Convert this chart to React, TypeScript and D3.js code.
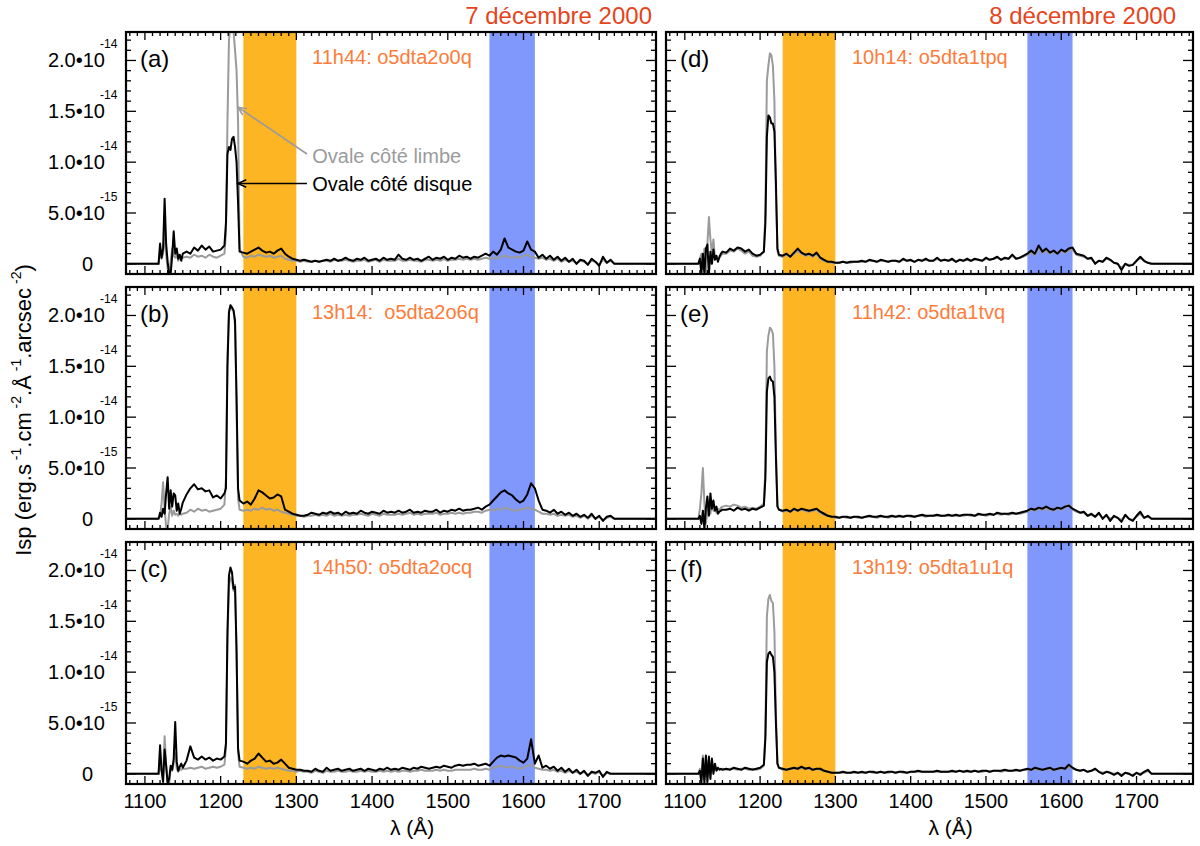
import React from "react";
import * as d3 from "d3";

// ---------- DATA (intensities in units of 1e-15 erg.s-1.cm-2.Å-1.arcsec-2) ----------
const WAVELENGTH = [
  1075, 1118,
  1120, 1122, 1124, 1126, 1128, 1130, 1132, 1134, 1136, 1138, 1140, 1142, 1144, 1146, 1148, 1150,
  1155, 1160, 1165, 1170, 1175, 1180, 1185, 1190, 1195, 1200, 1205,
  1207, 1209, 1211, 1213, 1215, 1217, 1219, 1221, 1223, 1225,
  1230, 1235, 1240, 1245, 1250, 1255, 1260, 1265, 1270, 1275,
  1280, 1285, 1290, 1295, 1300, 1305, 1310, 1315, 1320, 1325,
  1330, 1335, 1340, 1345, 1350, 1355, 1360, 1365, 1370, 1375,
  1380, 1385, 1390, 1395, 1400, 1405, 1410, 1415, 1420, 1425,
  1430, 1435, 1440, 1445, 1450, 1455, 1460, 1465, 1470, 1475,
  1480, 1485, 1490, 1495, 1500, 1505, 1510, 1515, 1520, 1525,
  1530, 1535, 1540, 1545, 1550, 1555, 1560, 1565, 1570, 1575,
  1580, 1585, 1590, 1595, 1600, 1605, 1610, 1615, 1620, 1625,
  1630, 1635, 1640, 1645, 1650, 1655, 1660, 1665, 1670, 1675,
  1680, 1685, 1690, 1695, 1700, 1705, 1710, 1715,
  1720, 1775,
];

// (a) 7 Dec 11h44
const A_DISK = [
  0, 0,
  2.0, 0.6, 1.5, 6.4, 2.0, 0.2, -1.0, -1.0, 0.8, 3.2, 1.0, 1.5, 0.5, 0.9, 0.3, 1.0,
  1.2, 1.0, 1.6, 1.3, 1.8, 1.4, 1.7, 1.2, 1.3, 1.4, 1.8,
  4.0, 10.8, 11.5, 11.2, 12.3, 12.5, 11.5, 10.0, 6.0, 1.2,
  1.1, 1.0, 1.2, 1.4, 1.6, 1.3, 1.1, 1.2, 1.0, 1.3,
  1.5, 1.0, 0.7, 0.5, 0.4, 0.3, 0.4, 0.3, 0.2, 0.3,
  0.2, 0.3, 0.4, 0.3, 0.5, 0.3, 0.4, 0.6, 0.4, 0.3,
  0.5, 0.4, 0.6, 0.3, 0.4, 0.5, 0.3, 0.6, 0.4, 0.5,
  0.4, 0.9, 0.5, 0.4, 0.6, 0.4, 0.5, 0.3, 0.5, 0.7,
  0.4, 0.6, 0.5, 0.7, 0.4, 0.6, 0.5, 0.8, 0.6, 0.7,
  0.5, 0.7, 0.6, 0.8, 1.0, 0.8, 1.2, 0.9, 1.4, 2.5,
  1.6, 1.4, 1.2, 1.1, 1.3, 2.2, 1.4, 1.2, 0.6, 0.9,
  0.5, 0.8, 0.4, 0.7, 0.3, 0.6, 0.2, 0.5, 0.0, 0.4,
  0.3, -0.1, 0.5, 0.2, -0.2, 0.7, 0.1, 0.4,
  0, 0,
];
const A_LIMB = [
  0, 0,
  1.2, 0.5, 1.0, 3.0, 1.0, -0.5, -1.0, 0.3, 1.5, 0.8, 0.6, 0.9, 0.3, 0.6, 0.5, 0.6,
  0.7, 0.6, 0.9, 0.7, 0.8, 0.6, 0.9, 0.7, 0.6, 0.8, 1.0,
  3.0, 14.0, 22.0, 23.5, 23.5, 23.0, 21.0, 19.0, 14.0, 1.5,
  0.7, 0.6, 0.8, 0.7, 0.9, 0.8, 0.7, 0.8, 0.6, 0.7,
  0.8, 0.5, 0.4, 0.3, 0.3, 0.2, 0.3, 0.2, 0.2, 0.3,
  0.2, 0.3, 0.3, 0.2, 0.4, 0.3, 0.3, 0.4, 0.3, 0.2,
  0.3, 0.3, 0.4, 0.2, 0.3, 0.4, 0.2, 0.4, 0.3, 0.3,
  0.3, 0.5, 0.3, 0.3, 0.4, 0.3, 0.3, 0.2, 0.4, 0.4,
  0.3, 0.4, 0.3, 0.5, 0.3, 0.4, 0.4, 0.5, 0.4, 0.5,
  0.4, 0.5, 0.4, 0.5, 0.6, 0.5, 0.6, 0.5, 0.7, 0.8,
  0.7, 0.6, 0.7, 0.6, 0.8, 0.9, 0.7, 0.6, 0.5, 0.6,
  0.4, 0.5, 0.3, 0.5, 0.2, 0.4, 0.2, 0.3, 0.1, 0.3,
  0.2, 0.0, 0.3, 0.2, -0.1, 0.4, 0.1, 0.3,
  0, 0,
];

// (b) 7 Dec 13h14
const B_DISK = [
  0, 0,
  0.6, 0.2, 1.0, 0.5, 2.5, 4.1, 1.0, 2.8, 1.2, 2.5, 2.3, 0.8, 1.5, 0.5, 1.0, 1.6,
  2.4, 3.0, 3.4, 2.9, 3.0, 2.7, 2.8, 2.1, 2.3, 2.0, 2.5,
  3.0, 15.0, 20.3, 21.0, 20.8, 20.5, 19.5, 12.0, 3.0, 1.8,
  1.5, 1.7, 1.4, 2.0, 2.8, 2.6, 2.3, 2.0, 2.1, 2.4,
  2.2, 0.9, 0.7, 0.5, 0.4, 0.3, 0.3, 0.4, 0.6, 0.5,
  0.4, 0.6, 0.5, 0.7, 0.5, 0.6, 0.4, 0.7, 0.5, 0.6,
  0.5, 0.8, 0.6, 0.5, 0.7, 0.6, 0.5, 0.8, 0.6, 0.7,
  0.6, 0.8, 0.6, 0.7, 0.9, 0.6, 0.7, 0.6, 0.8, 0.7,
  0.7, 0.9, 0.6, 0.8, 0.7, 0.9, 0.8, 1.0, 0.8, 0.9,
  0.9, 1.0, 1.1, 0.9, 1.2, 1.4, 1.8, 2.2, 2.6, 2.8,
  2.5, 2.3, 1.9, 1.6, 1.8, 2.4, 3.5, 3.0, 1.8, 0.9,
  0.8, 0.6, 0.9, 0.5, 0.7, 0.4, 0.6, 0.3, 0.5, 0.2,
  0.4, 0.1, 0.5, 0.0, 0.3, -0.2, 0.2, 0.3,
  0, 0,
];
const B_LIMB = [
  0, 0,
  0.3, 1.5, 3.6, 1.0, -0.8, -1.0, 0.5, 1.2, 0.3, 0.8, 0.4, 0.5, 0.3, 0.6, 0.4, 0.5,
  0.6, 0.9, 0.7, 1.0, 0.8, 0.9, 0.7, 0.8, 0.9, 1.0, 1.4,
  4.0, 16.0, 20.5, 21.0, 20.6, 20.5, 19.0, 11.0, 2.0, 0.9,
  0.8, 0.9, 0.8, 1.0, 0.9, 1.1, 0.9, 1.0, 0.8, 0.9,
  0.7, 0.6, 0.5, 0.4, 0.3, 0.3, 0.2, 0.3, 0.3, 0.4,
  0.3, 0.4, 0.3, 0.5, 0.3, 0.4, 0.3, 0.4, 0.3, 0.4,
  0.4, 0.5, 0.4, 0.3, 0.5, 0.4, 0.3, 0.5, 0.4, 0.4,
  0.4, 0.5, 0.4, 0.5, 0.6, 0.4, 0.5, 0.4, 0.5, 0.5,
  0.5, 0.6, 0.4, 0.5, 0.5, 0.6, 0.5, 0.6, 0.5, 0.6,
  0.6, 0.7, 0.7, 0.6, 0.8, 0.9, 0.8, 1.0, 0.9, 1.1,
  1.0, 0.9, 0.8, 0.9, 1.0, 1.1, 1.0, 0.9, 0.7, 0.5,
  0.5, 0.4, 0.5, 0.3, 0.4, 0.3, 0.4, 0.2, 0.3, 0.1,
  0.3, 0.0, 0.3, 0.0, 0.2, -0.1, 0.1, 0.2,
  0, 0,
];

// (c) 7 Dec 14h50
const C_DISK = [
  0, 0,
  2.8, 0.3, -0.8, 2.4, 0.8, -1.0, -0.5, 0.8, 0.4, 1.5, 5.1, 1.2, 0.3, 0.7, 1.0, 0.6,
  1.3, 2.7, 1.6, 1.4, 1.7, 1.4, 1.6, 1.3, 1.5, 1.4, 1.7,
  3.0, 14.0, 19.5, 20.3, 19.8, 18.2, 18.4, 12.0, 2.5, 1.3,
  1.2, 1.0, 1.3, 1.5, 2.0, 1.6, 1.2, 1.3, 1.0, 1.1,
  1.4, 1.0, 0.6, 0.5, 0.4, 0.4, 0.3, 0.3, 0.2, 0.5,
  0.3, 0.2, 0.6, 0.3, 0.4, 0.5, 0.3, 0.4, 0.5, 0.3,
  0.4, 0.5, 0.3, 0.5, 0.4, 0.3, 0.5, 0.4, 0.6, 0.4,
  0.5, 0.4, 0.6, 0.5, 0.4, 0.6, 0.5, 0.7, 0.6, 0.5,
  0.6, 0.7, 0.6, 0.8, 0.7, 0.6, 0.8, 0.9, 0.8, 0.9,
  0.9, 1.0, 0.8, 0.9, 1.0, 0.8, 1.2, 1.6, 1.8, 1.7,
  1.8, 1.7, 1.6, 1.3, 1.1, 1.5, 3.4, 1.0, 1.8, 0.6,
  0.8, 0.5, 0.7, 0.3, 0.6, 0.2, 0.5, 0.1, 0.4, 0.0,
  0.3, -0.2, 0.2, 0.1, 0.3, -0.3, 0.2, 0.0,
  0, 0,
];
const C_LIMB = [
  0, 0,
  1.0, 0.3, 0.0, 3.7, 1.0, -0.8, -1.0, 0.5, 0.3, 1.0, 2.0, 0.5, 0.2, 0.5, 0.4, 0.5,
  0.5, 0.6, 0.5, 0.6, 0.7, 0.5, 0.6, 0.7, 0.6, 0.7, 0.9,
  2.5, 13.0, 18.5, 19.3, 19.0, 18.0, 18.6, 12.5, 2.0, 0.7,
  0.6, 0.5, 0.6, 0.5, 0.7, 0.6, 0.5, 0.6, 0.5, 0.6,
  0.5, 0.4, 0.3, 0.3, 0.2, 0.3, 0.2, 0.2, 0.1, 0.3,
  0.2, 0.1, 0.3, 0.2, 0.2, 0.3, 0.2, 0.2, 0.3, 0.2,
  0.2, 0.3, 0.2, 0.3, 0.2, 0.2, 0.3, 0.2, 0.3, 0.2,
  0.3, 0.2, 0.3, 0.3, 0.2, 0.3, 0.3, 0.4, 0.3, 0.3,
  0.3, 0.4, 0.3, 0.4, 0.3, 0.3, 0.4, 0.4, 0.4, 0.4,
  0.4, 0.5, 0.4, 0.4, 0.5, 0.4, 0.6, 0.7, 0.8, 0.7,
  0.6, 0.7, 0.6, 0.5, 0.6, 0.8, 0.9, 0.6, 0.5, 0.4,
  0.4, 0.3, 0.4, 0.2, 0.3, 0.1, 0.3, 0.1, 0.2, 0.0,
  0.2, -0.1, 0.1, 0.0, 0.2, -0.2, 0.1, 0.0,
  0, 0,
];

// (d) 8 Dec 10h14
const D_DISK = [
  0, 0,
  0.5, -1.0, 1.0, -1.0, 1.5, 1.9, -1.0, 1.2, 0.0, 1.4, 0.4, 0.8, 0.2, 0.7, 1.0, 1.2,
  1.1, 1.5, 1.3, 1.6, 1.5, 1.2, 1.4, 1.0, 0.8, 0.9, 1.2,
  4.0, 12.5, 14.6, 14.4, 13.8, 13.8, 13.0, 8.0, 1.5, 0.9,
  0.8, 1.0, 0.7, 1.1, 1.5, 1.1, 0.9, 1.0, 0.8, 1.1,
  0.6, 0.4, 0.2, 0.2, 0.1, 0.1, 0.2, 0.1, 0.2, 0.2,
  0.2, 0.3, 0.2, 0.4, 0.3, 0.2, 0.4, 0.3, 0.2, 0.3,
  0.3, 0.2, 0.5, 0.3, 0.4, 0.2, 0.4, 0.3, 0.5, 0.3,
  0.3, 0.6, 0.3, 0.4, 0.3, 0.5, 0.2, 0.4, 0.3, 0.5,
  0.3, 0.5, 0.4, 0.3, 0.6, 0.4, 0.5, 0.7, 0.4, 0.6,
  0.5, 0.9, 0.5, 0.6, 0.8, 1.0, 1.3, 1.0, 1.8, 1.2,
  1.5, 1.1, 1.3, 1.0, 1.4, 1.2, 1.5, 1.6, 1.0, 0.9,
  0.8, 0.5, 0.6, 0.0, 0.3, 0.2, 0.6, 0.4, 0.1, 0.0,
  -0.6, 0.0, -0.2, -0.1, 0.3, 0.7, 0.3, 0.1,
  0, 0,
];
const D_LIMB = [
  0, 0,
  0.5, 1.0, -0.5, 1.5, -1.0, 2.0, 4.6, 2.4, 1.0, 2.4, 0.6, 0.5, 0.4, 0.6, 0.8, 1.0,
  1.0, 1.3, 1.2, 1.5, 1.3, 1.0, 1.2, 0.8, 0.7, 0.8, 1.2,
  5.0, 18.0, 19.5, 20.7, 20.5, 19.5, 16.0, 7.0, 1.3, 0.8,
  0.7, 0.9, 0.7, 1.0, 1.3, 1.0, 0.8, 0.9, 0.7, 1.0,
  0.5, 0.3, 0.2, 0.1, 0.1, 0.1, 0.2, 0.1, 0.1, 0.2,
  0.2, 0.2, 0.2, 0.3, 0.3, 0.2, 0.3, 0.3, 0.2, 0.3,
  0.3, 0.2, 0.4, 0.3, 0.3, 0.2, 0.4, 0.3, 0.4, 0.3,
  0.3, 0.5, 0.3, 0.4, 0.3, 0.4, 0.2, 0.4, 0.3, 0.4,
  0.3, 0.4, 0.4, 0.3, 0.5, 0.4, 0.5, 0.6, 0.4, 0.5,
  0.5, 0.8, 0.5, 0.6, 0.7, 0.9, 1.1, 0.9, 1.5, 1.1,
  1.3, 1.0, 1.2, 1.0, 1.3, 1.1, 1.3, 1.4, 0.9, 0.8,
  0.7, 0.5, 0.5, 0.1, 0.3, 0.2, 0.5, 0.4, 0.1, 0.0,
  -0.4, 0.0, -0.1, -0.1, 0.3, 0.6, 0.3, 0.1,
  0, 0,
];

// (e) 8 Dec 11h42
const E_DISK = [
  0, 0,
  0.3, -0.5, 0.8, -1.0, 1.0, 2.2, 0.3, 2.5, 1.0, 1.8, 0.8, 1.2, 0.5, 0.7, 0.8, 0.9,
  0.9, 1.0, 0.8, 1.1, 0.9, 1.0, 0.8, 1.0, 0.9, 1.1, 1.3,
  4.0, 12.5, 13.8, 14.0, 13.6, 13.5, 12.0, 6.0, 1.2, 0.9,
  0.8, 0.9, 0.7, 1.0, 0.8, 1.0, 0.9, 0.8, 0.9, 1.0,
  0.7, 0.5, 0.3, 0.2, 0.2, 0.1, 0.2, 0.2, 0.1, 0.2,
  0.2, 0.1, 0.2, 0.3, 0.2, 0.2, 0.3, 0.2, 0.2, 0.3,
  0.2, 0.3, 0.2, 0.3, 0.3, 0.2, 0.3, 0.4, 0.3, 0.3,
  0.3, 0.4, 0.3, 0.3, 0.4, 0.3, 0.4, 0.3, 0.4, 0.4,
  0.4, 0.3, 0.5, 0.4, 0.4, 0.5, 0.4, 0.6, 0.5, 0.5,
  0.5, 0.6, 0.5, 0.6, 0.7, 0.8, 1.0, 0.9, 1.1, 1.0,
  1.2, 1.0, 0.9, 1.1, 1.0, 1.2, 1.3, 1.0, 0.8, 0.6,
  0.7, 0.3, 0.5, 0.2, 0.6, 0.0, 0.4, -0.2, 0.3, 0.1,
  -0.3, 0.4, 0.0, -0.2, 0.3, 0.7, 0.1, 0.3,
  0, 0,
];
const E_LIMB = [
  0, 0,
  1.0, 2.5, 5.0, 1.5, -0.5, 0.8, 1.5, 0.5, 1.6, 0.8, 1.2, 0.6, 1.0, 0.8, 1.1, 1.2,
  1.3, 1.2, 1.4, 1.3, 1.1, 1.2, 1.0, 1.1, 1.0, 1.2, 1.5,
  5.0, 16.5, 18.0, 18.8, 18.6, 18.2, 15.0, 7.0, 1.3, 0.9,
  0.7, 0.8, 0.7, 0.9, 0.8, 0.9, 0.8, 0.7, 0.8, 0.9,
  0.6, 0.4, 0.3, 0.2, 0.1, 0.1, 0.2, 0.1, 0.1, 0.2,
  0.1, 0.1, 0.2, 0.2, 0.2, 0.1, 0.2, 0.2, 0.1, 0.2,
  0.2, 0.2, 0.2, 0.3, 0.2, 0.2, 0.3, 0.3, 0.2, 0.3,
  0.3, 0.3, 0.3, 0.3, 0.3, 0.3, 0.3, 0.3, 0.3, 0.4,
  0.3, 0.3, 0.4, 0.4, 0.3, 0.4, 0.4, 0.5, 0.4, 0.5,
  0.4, 0.5, 0.5, 0.5, 0.6, 0.7, 0.9, 0.8, 1.0, 0.9,
  1.0, 0.9, 0.8, 1.0, 0.9, 1.1, 1.4, 0.9, 0.7, 0.6,
  0.6, 0.3, 0.4, 0.2, 0.5, 0.1, 0.3, 0.0, 0.2, 0.1,
  -0.1, 0.3, 0.0, -0.1, 0.2, 0.5, 0.1, 0.2,
  0, 0,
];

// (f) 8 Dec 13h19
const F_DISK = [
  0, 0,
  0.3, -0.9, 1.5, -0.9, 1.8, -0.8, 1.7, -0.5, 1.5, 0.0, 1.0, 0.3, 0.6, 0.4, 0.5, 0.4,
  0.5, 0.4, 0.6, 0.5, 0.4, 0.6, 0.5, 0.4, 0.5, 0.6, 0.9,
  3.5, 11.0, 11.8, 12.0, 11.7, 11.5, 10.0, 5.0, 1.0, 0.6,
  0.5, 0.4, 0.5, 0.6, 0.5, 0.7, 0.5, 0.6, 0.4, 0.5,
  0.5, 0.3, 0.2, 0.1, 0.1, 0.1, 0.2, 0.1, 0.1, 0.2,
  0.1, 0.2, 0.1, 0.2, 0.2, 0.1, 0.2, 0.1, 0.2, 0.2,
  0.1, 0.2, 0.2, 0.1, 0.2, 0.2, 0.3, 0.2, 0.2, 0.2,
  0.2, 0.3, 0.2, 0.2, 0.2, 0.3, 0.2, 0.3, 0.2, 0.3,
  0.2, 0.3, 0.2, 0.3, 0.3, 0.2, 0.3, 0.3, 0.3, 0.4,
  0.3, 0.3, 0.4, 0.3, 0.4, 0.5, 0.4, 0.6, 0.5, 0.4,
  0.5, 0.6, 0.4, 0.5, 0.6, 0.5, 0.9, 0.6, 0.4, 0.3,
  0.4, 0.2, 0.3, 0.5, 0.2, 0.0, 0.2, 0.1, -0.1, 0.1,
  -0.2, 0.1, 0.0, -0.2, 0.1, -0.1, 0.2, 0.4,
  0, 0,
];
const F_LIMB = [
  0, 0,
  0.5, -0.5, 1.8, -0.6, 1.7, -0.3, 1.5, 0.0, 1.2, 0.3, 0.8, 0.4, 0.5, 0.5, 0.4, 0.5,
  0.4, 0.5, 0.5, 0.4, 0.5, 0.5, 0.4, 0.5, 0.4, 0.5, 0.8,
  4.0, 15.5, 17.2, 17.6, 17.0, 16.8, 14.0, 6.0, 1.0, 0.6,
  0.4, 0.4, 0.5, 0.5, 0.5, 0.6, 0.5, 0.5, 0.4, 0.5,
  0.4, 0.3, 0.2, 0.1, 0.1, 0.1, 0.1, 0.1, 0.1, 0.1,
  0.1, 0.1, 0.1, 0.2, 0.1, 0.1, 0.2, 0.1, 0.1, 0.2,
  0.1, 0.2, 0.1, 0.1, 0.2, 0.2, 0.2, 0.2, 0.2, 0.2,
  0.2, 0.2, 0.2, 0.2, 0.2, 0.2, 0.2, 0.3, 0.2, 0.2,
  0.2, 0.3, 0.2, 0.2, 0.3, 0.2, 0.3, 0.3, 0.2, 0.3,
  0.3, 0.3, 0.3, 0.3, 0.4, 0.4, 0.4, 0.5, 0.4, 0.4,
  0.4, 0.5, 0.4, 0.4, 0.5, 0.5, 0.7, 0.5, 0.4, 0.3,
  0.4, 0.2, 0.3, 0.5, 0.2, 0.1, 0.2, 0.1, 0.0, 0.1,
  -0.1, 0.1, 0.0, -0.1, 0.1, 0.0, 0.1, 0.3,
  0, 0,
];

const DISK_SERIES = [A_DISK, B_DISK, C_DISK, D_DISK, E_DISK, F_DISK];
const LIMB_SERIES = [A_LIMB, B_LIMB, C_LIMB, D_LIMB, E_LIMB, F_LIMB];
const PANEL_LABELS = ["(a)", "(b)", "(c)", "(d)", "(e)", "(f)"];
const OBS_LABELS = [
  "11h44: o5dta2o0q",
  "13h14:  o5dta2o6q",
  "14h50: o5dta2ocq",
  "10h14: o5dta1tpq",
  "11h42: o5dta1tvq",
  "13h19: o5dta1u1q",
];
const DATE_TITLES = ["7 décembre 2000", "8 décembre 2000"];

const X_DOMAIN = [1075, 1775];
const Y_DOMAIN = [-1, 22.8];
const X_TICKS = [1100, 1200, 1300, 1400, 1500, 1600, 1700];
const Y_TICKS = [0, 5, 10, 15, 20];
const Y_TICK_MANTISSA = ["0", "5.0•10", "1.0•10", "1.5•10", "2.0•10"];
const Y_TICK_EXPONENT = ["", "-15", "-14", "-14", "-14"];
const ORANGE_BAND = [1230, 1300];
const BLUE_BAND = [1555, 1615];

// annotation in panel (a), data coordinates (λ, I)
const ANNOT_LABELS = ["Ovale côté limbe", "Ovale côté disque"];
const ANNOT_TAIL = [[1314, 10.8], [1314, 7.9]];
const ANNOT_TIP = [[1223, 15.4], [1223, 7.9]];
const ANNOT_TEXT = [[1321, 9.9], [1321, 7.2]];

// ---------- LAYOUT ----------
const COLS = [
  { x: 126, w: 530 },
  { x: 666, w: 527 },
];
const ROWS = [32, 287, 542];
const PH = 242;
const FONT = "'Liberation Sans', Arial, Helvetica, sans-serif";
const GRAY = "#9b9b9b";
const ORANGE_TXT = "#fd7c3a";
const TITLE_RED = "#e6441b";
const BAND_ORANGE = "#fdb523";
const BAND_BLUE = "#8097fc";

function Arrow({ x1, y1, x2, y2, color }: any) {
  const ang = Math.atan2(y2 - y1, x2 - x1);
  const L = 9;
  const a = (25 * Math.PI) / 180;
  const p1 = [x2 - L * Math.cos(ang - a), y2 - L * Math.sin(ang - a)];
  const p2 = [x2 - L * Math.cos(ang + a), y2 - L * Math.sin(ang + a)];
  return (
    <g stroke={color} strokeWidth={1.6} fill="none">
      <line x1={x1} y1={y1} x2={x2} y2={y2} />
      <polyline points={`${p1[0]},${p1[1]} ${x2},${y2} ${p2[0]},${p2[1]}`} />
    </g>
  );
}

function Panel({ i }: { i: number }) {
  const col = Math.floor(i / 3);
  const row = i % 3;
  const x0 = COLS[col].x;
  const w = COLS[col].w;
  const y0 = ROWS[row];
  const xs = d3.scaleLinear().domain(X_DOMAIN).range([x0, x0 + w]);
  const ys = d3.scaleLinear().domain(Y_DOMAIN).range([y0 + PH, y0]);
  const line = d3
    .line<number>()
    .x((_, k) => xs(WAVELENGTH[k]))
    .y((d) => ys(d));
  const clipId = `clip-${i}`;
  const xMinor = d3.range(1080, 1775, 10).filter((v) => v % 100 !== 0);
  const yMinor = d3.range(-1, 23, 1).filter((v) => v % 5 !== 0);
  const yb = y0 + PH;
  const xr = x0 + w;
  return (
    <g>
      <defs>
        <clipPath id={clipId}>
          <rect x={x0} y={y0} width={w} height={PH} />
        </clipPath>
      </defs>
      <rect x={xs(ORANGE_BAND[0])} y={y0} width={xs(ORANGE_BAND[1]) - xs(ORANGE_BAND[0])} height={PH} fill={BAND_ORANGE} />
      <rect x={xs(BLUE_BAND[0])} y={y0} width={xs(BLUE_BAND[1]) - xs(BLUE_BAND[0])} height={PH} fill={BAND_BLUE} />
      <g clipPath={`url(#${clipId})`} fill="none" strokeLinejoin="round" strokeWidth={2}>
        <path d={line(LIMB_SERIES[i]) || ""} stroke={GRAY} />
        <path d={line(DISK_SERIES[i]) || ""} stroke="#000" />
      </g>
      <g stroke="#000" strokeWidth={1.3}>
        {X_TICKS.map((t) => (
          <g key={"xt" + t}>
            <line x1={xs(t)} x2={xs(t)} y1={yb} y2={yb - 8} />
            <line x1={xs(t)} x2={xs(t)} y1={y0} y2={y0 + 8} />
          </g>
        ))}
        {xMinor.map((t) => (
          <g key={"xm" + t}>
            <line x1={xs(t)} x2={xs(t)} y1={yb} y2={yb - 4} />
            <line x1={xs(t)} x2={xs(t)} y1={y0} y2={y0 + 4} />
          </g>
        ))}
        {Y_TICKS.map((t) => (
          <g key={"yt" + t}>
            <line x1={x0} x2={x0 + 10} y1={ys(t)} y2={ys(t)} />
            <line x1={xr} x2={xr - 10} y1={ys(t)} y2={ys(t)} />
          </g>
        ))}
        {yMinor.map((t) => (
          <g key={"ym" + t}>
            <line x1={x0} x2={x0 + 5} y1={ys(t)} y2={ys(t)} />
            <line x1={xr} x2={xr - 5} y1={ys(t)} y2={ys(t)} />
          </g>
        ))}
      </g>
      <rect x={x0} y={y0} width={w} height={PH} fill="none" stroke="#000" strokeWidth={2.2} />
      {col === 0 &&
        Y_TICKS.map((t, k) =>
          k === 0 ? (
            <text key={"yl" + t} x={x0 - 33} y={ys(t) + 7} textAnchor="end" fontSize={20}>
              {Y_TICK_MANTISSA[k]}
            </text>
          ) : (
            <g key={"yl" + t}>
              <text x={x0 - 21} y={ys(t) + 7} textAnchor="end" fontSize={20}>
                {Y_TICK_MANTISSA[k]}
              </text>
              <text x={x0 - 26} y={ys(t) - 12} textAnchor="start" fontSize={12}>
                {Y_TICK_EXPONENT[k]}
              </text>
            </g>
          )
        )}
      {row === 2 &&
        X_TICKS.map((t) => (
          <text key={"xl" + t} x={xs(t)} y={yb + 24} textAnchor="middle" fontSize={20}>
            {t}
          </text>
        ))}
      {row === 2 && (
        <text x={xs(1453)} y={yb + 51} textAnchor="middle" fontSize={21}>
          λ (Å)
        </text>
      )}
      <text x={x0 + 14} y={y0 + 35} fontSize={24}>
        {PANEL_LABELS[i]}
      </text>
      <text x={x0 + 186} y={y0 + 32} fontSize={20} fill={ORANGE_TXT} style={{ whiteSpace: "pre" }}>
        {OBS_LABELS[i]}
      </text>
      {i === 0 &&
        ANNOT_LABELS.map((lab, k) => (
          <g key={"an" + k}>
            <Arrow
              x1={xs(ANNOT_TAIL[k][0])}
              y1={ys(ANNOT_TAIL[k][1])}
              x2={xs(ANNOT_TIP[k][0])}
              y2={ys(ANNOT_TIP[k][1])}
              color={k === 0 ? GRAY : "#000"}
            />
            <text x={xs(ANNOT_TEXT[k][0])} y={ys(ANNOT_TEXT[k][1])} fontSize={20} fill={k === 0 ? GRAY : "#000"}>
              {lab}
            </text>
          </g>
        ))}
    </g>
  );
}

export default function App() {
  const sup = { fontSize: 14 } as any;
  return (
    <svg
      width={1200}
      height={846}
      style={{ position: "absolute", left: 0, top: 0, display: "block", background: "#fff" }}
      fontFamily={FONT}
    >
      <rect x={0} y={0} width={1200} height={846} fill="#fff" />
      {d3.range(6).map((i) => (
        <Panel key={i} i={i} />
      ))}
      {DATE_TITLES.map((t, c) => (
        <text key={t} x={COLS[c].x + COLS[c].w - (c === 0 ? 4 : 17)} y={24} textAnchor="end" fontSize={24} fill={TITLE_RED}>
          {t}
        </text>
      ))}
      <text transform="translate(31,410) rotate(-90)" textAnchor="middle" fontSize={22}>
        <tspan>Isp (erg.s</tspan>
        <tspan dy={-10} style={sup}> -1</tspan>
        <tspan dy={10}>.cm</tspan>
        <tspan dy={-10} style={sup}> -2</tspan>
        <tspan dy={10}>.Å</tspan>
        <tspan dy={-10} style={sup}> -1</tspan>
        <tspan dy={10}>.arcsec</tspan>
        <tspan dy={-10} style={sup}> -2</tspan>
        <tspan dy={10}>)</tspan>
      </text>
    </svg>
  );
}
